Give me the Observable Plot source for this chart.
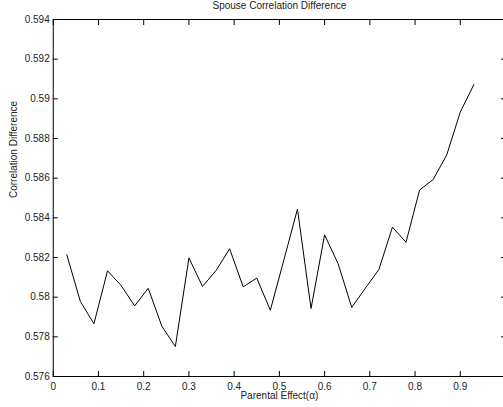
<!DOCTYPE html>
<html>
<head>
<meta charset="utf-8">
<script src="https://cdn.jsdelivr.net/npm/d3@7"></script>
<script src="https://cdn.jsdelivr.net/npm/@observablehq/plot@0.6"></script>
<style>
  html, body { margin: 0; padding: 0; background: #fff; }
</style>
</head>
<body>
<div id="chart"></div>
<script>
const title = "Spouse Correlation Difference";
const xLabel = "Parental Effect(\u03b1)";
const yLabel = "Correlation Difference";

const alpha = [0.03, 0.06, 0.09, 0.12, 0.15, 0.18, 0.21, 0.24, 0.27, 0.30,
               0.33, 0.36, 0.39, 0.42, 0.45, 0.48, 0.51, 0.54, 0.57, 0.60,
               0.63, 0.66, 0.69, 0.72, 0.75, 0.78, 0.81, 0.84, 0.87, 0.90, 0.93];
const corrDiff = [0.58213, 0.57978, 0.57866, 0.58133, 0.58059, 0.57956, 0.58045, 0.57854, 0.57751, 0.58198,
                  0.58054, 0.58134, 0.58244, 0.58052, 0.58096, 0.57934, 0.58188, 0.58444, 0.57943, 0.58314,
                  0.58168, 0.57948, 0.58045, 0.58139, 0.58353, 0.58277, 0.58540, 0.58593, 0.58717, 0.58933, 0.59072];

const xTicks = [0, 0.1, 0.2, 0.3, 0.4, 0.5, 0.6, 0.7, 0.8, 0.9];
const yTicks = [0.576, 0.578, 0.58, 0.582, 0.584, 0.586, 0.588, 0.59, 0.592, 0.594];

const data = alpha.map((a, i) => ({alpha: a, value: corrDiff[i]}));
const fmtX = d => String(+d.toFixed(1));
const fmtY = d => String(+d.toFixed(3));
const none = () => "";

const chart = Plot.plot({
  width: 503,
  height: 407,
  marginLeft: 52.75,
  marginRight: -2,
  marginTop: 19,
  marginBottom: 31,
  style: {fontFamily: "'Liberation Sans', Arial, sans-serif", fontSize: "10px", background: "#fff", color: "#000"},
  x: {domain: [0, 1]},
  y: {domain: [0.576, 0.594]},
  marks: [
    Plot.frame({stroke: "#000", strokeWidth: 1}),
    // inward ticks on all four sides
    Plot.axisX({anchor: "bottom", ticks: xTicks, tickSize: -5, tickFormat: none, label: null}),
    Plot.axisX({anchor: "top", ticks: xTicks, tickSize: -5, tickFormat: none, label: null}),
    Plot.axisY({anchor: "left", ticks: yTicks, tickSize: -5, tickFormat: none, label: null}),
    Plot.axisY({anchor: "right", ticks: yTicks, tickSize: -5, tickFormat: none, label: null}),
    // tick labels
    Plot.axisX({anchor: "bottom", ticks: xTicks, tickSize: 0, tickPadding: 6, tickFormat: fmtX, label: null, fill: "#222"}),
    Plot.axisY({anchor: "left", ticks: yTicks, tickSize: 0, tickPadding: 3.5, tickFormat: fmtY, label: null, fill: "#222"}),
    Plot.line(data, {x: "alpha", y: "value", stroke: "#000", strokeWidth: 1}),
    Plot.text([title], {frameAnchor: "top", lineAnchor: "bottom", dy: -11, fill: "#222"}),
    Plot.text([xLabel], {frameAnchor: "bottom", lineAnchor: "bottom", dy: 22, fill: "#222"}),
    Plot.text([yLabel], {frameAnchor: "left", lineAnchor: "bottom", rotate: -90, dx: -36.25, fill: "#222"})
  ]
});
document.getElementById("chart").appendChild(chart);
</script>
</body>
</html>
